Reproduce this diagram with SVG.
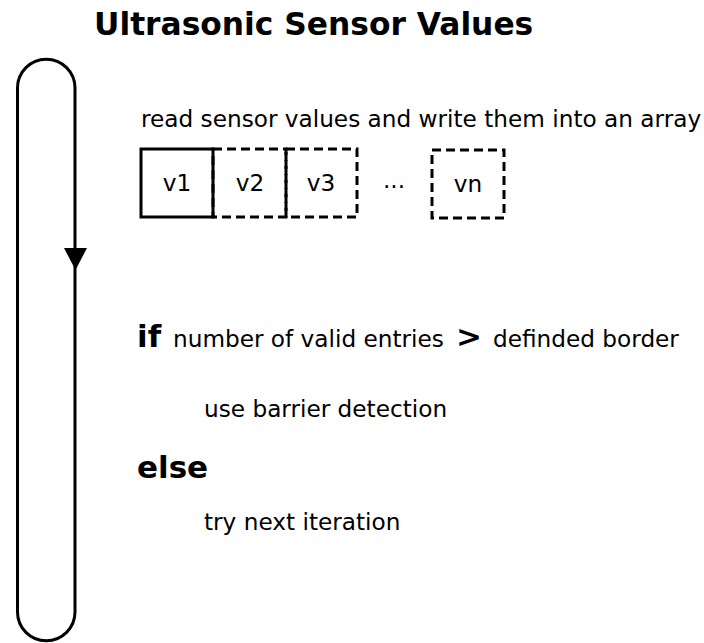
<svg xmlns="http://www.w3.org/2000/svg" width="704" height="643" viewBox="0 0 704 643">
  <style>
    .t { font-family: "DejaVu Sans", sans-serif; fill: #000; font-size: 23.2px; }
    .b { font-weight: bold; font-size: 31px; }
    .box { fill: none; stroke: #000; stroke-width: 3; }
    .dash { stroke-dasharray: 9 5; }
  </style>
  <rect width="704" height="643" fill="#fff"/>
  <text class="t b" x="94" y="35" style="font-size:31.3px">Ultrasonic Sensor Values</text>

  <!-- loop connector -->
  <g id="connectors">
    <path d="M17.5 612 L17.5 88 A28.75 28.75 0 0 1 75 88 L75 612 A28.75 28.75 0 0 1 17.5 612 Z" fill="none" stroke="#000" stroke-width="3"/>
    <polygon points="64,248 87,248 75.5,270" fill="#000"/>
  </g>

  <text class="t" x="141" y="127">read sensor values and write them into an array</text>

  <g id="v1"><rect class="box" x="141" y="149" width="72" height="68"/><text class="t" x="177" y="191" text-anchor="middle">v1</text></g>
  <g id="v2"><rect class="box dash" x="213" y="149" width="73" height="68"/><text class="t" x="250" y="191" text-anchor="middle">v2</text></g>
  <g id="v3"><rect class="box dash" x="286" y="149" width="71" height="68"/><text class="t" x="321" y="191" text-anchor="middle">v3</text></g>
  <text class="t" x="394" y="188" text-anchor="middle">...</text>
  <g id="vn"><rect class="box dash" x="432" y="150" width="72" height="68"/><text class="t" x="468" y="192" text-anchor="middle">vn</text></g>

  <text class="t" x="137" y="347"><tspan class="b">if</tspan><tspan x="173">number of valid entries</tspan><tspan class="b" x="456">&gt;</tspan><tspan x="493">definded border</tspan></text>
  <text class="t" x="204" y="417">use barrier detection</text>
  <text class="t b" x="137" y="478">else</text>
  <text class="t" x="204" y="530">try next iteration</text>
</svg>
